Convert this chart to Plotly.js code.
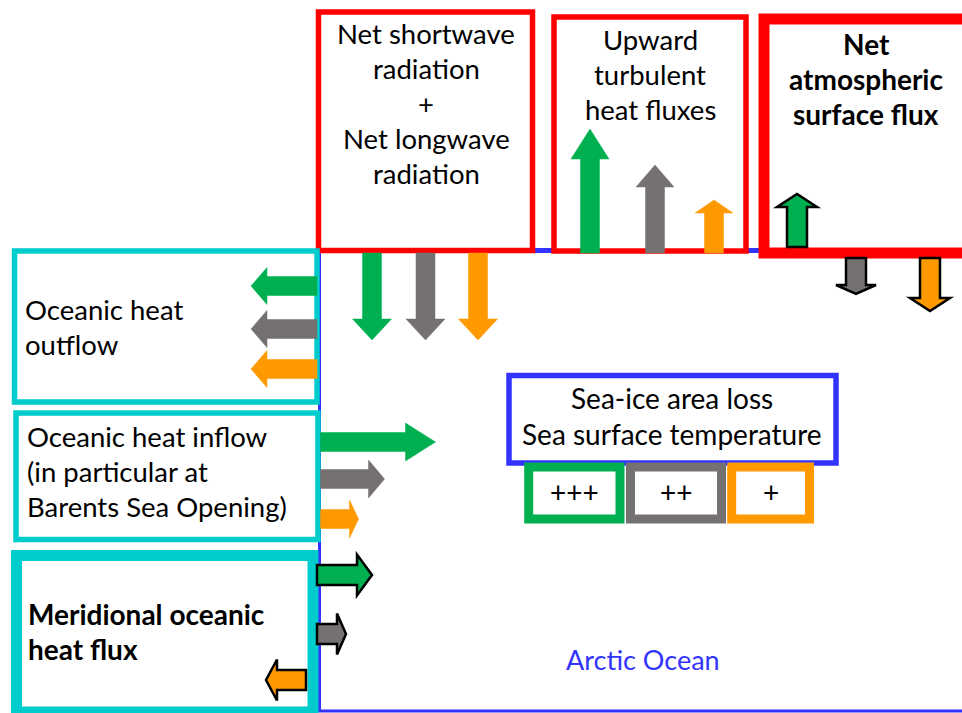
<!DOCTYPE html>
<html>
<head>
<meta charset="utf-8">
<script src="https://cdn.plot.ly/plotly-3.0.1.min.js"></script>
<style>html,body{margin:0;padding:0;background:#fff;}#chart{width:962px;height:713px;}</style>
</head>
<body>
<div id="chart"></div>
<script>
// ---------------- data ----------------
const scenarioColors = ['#00B050', '#767171', '#FF9900'];
const scenarioSigns = ['+++', '++', '+'];

const radiationLabel = ['Net shortwave', 'radiation', '+', 'Net longwave', 'radiation'];
const turbulentLabel = ['Upward', 'turbulent', 'heat fluxes'];
const netSurfaceLabel = ['Net', 'atmospheric', 'surface flux'];
const outflowLabel = ['Oceanic heat', 'outflow'];
const inflowLabel = ['Oceanic heat inflow', '(in particular at', 'Barents Sea Opening)'];
const meridionalLabel = ['Meridional oceanic', 'heat flux'];
const oceanStateLabel = ['Sea-ice area loss', 'Sea surface temperature'];
const regionLabel = 'Arctic Ocean';

// arrow magnitudes per scenario (green, grey, orange)
const radiativeFlux = [87, 87, 87];      // into the ocean (downward)
const turbulentFlux = [124, 88, 53];     // out of the ocean (upward)
const netSurfaceFlux = [53, -36, -53];   // + upward, - downward
const outflowFlux = [66, 66, 66];        // leaving the ocean (leftward)
const inflowFlux = [115, 64, 38];        // entering the ocean (rightward)
const meridionalFlux = [55, 29, -40];    // + into the ocean, - out of it

// ---------------- styles / layout ----------------
const FONT = 'Lato, "Source Sans Pro", "Open Sans", sans-serif';
const RED = '#FF0000', CYAN = '#00CCCC', BLUE = '#3333FF';
const TXT = 27.5, TXTB = 28;

const shapes = [];
const annotations = [];

function rect(x0, y0, x1, y1, color, width, fill) {
  shapes.push({type: 'rect', xref: 'x', yref: 'y', x0: x0, y0: y0, x1: x1, y1: y1,
    line: {color: color, width: width}, fillcolor: fill || 'rgba(0,0,0,0)', layer: 'above'});
}
function seg(x0, y0, x1, y1, color, width) {
  shapes.push({type: 'line', xref: 'x', yref: 'y', x0: x0, y0: y0, x1: x1, y1: y1,
    line: {color: color, width: width}, layer: 'above'});
}
// arrow from base (bx,by) along unit direction (ux,uy) with length len
function arrow(bx, by, ux, uy, len, shaftW, headW, headL, color, outline) {
  const px = -uy, py = ux; // perpendicular
  const hb = Math.max(len - headL, 0);
  const pts = [
    [bx + px * shaftW / 2, by + py * shaftW / 2],
    [bx + ux * hb + px * shaftW / 2, by + uy * hb + py * shaftW / 2],
    [bx + ux * hb + px * headW / 2, by + uy * hb + py * headW / 2],
    [bx + ux * len, by + uy * len],
    [bx + ux * hb - px * headW / 2, by + uy * hb - py * headW / 2],
    [bx + ux * hb - px * shaftW / 2, by + uy * hb - py * shaftW / 2],
    [bx - px * shaftW / 2, by - py * shaftW / 2]
  ];
  const path = 'M' + pts.map(p => p[0].toFixed(2) + ',' + p[1].toFixed(2)).join('L') + 'Z';
  shapes.push({type: 'path', xref: 'x', yref: 'y', path: path, fillcolor: color,
    line: outline ? {color: '#000000', width: 2.5} : {color: color, width: 0.5}, layer: 'above'});
}
function textLines(lines, x, yFirst, spacing, anchor, size, bold, color) {
  lines.forEach((t, i) => {
    annotations.push({xref: 'x', yref: 'y', x: x, y: yFirst + i * spacing, text: bold ? '<b>' + t + '</b>' : t,
      showarrow: false, xanchor: anchor, yanchor: 'middle', borderpad: 0,
      font: {family: FONT, size: size, color: color || '#000000'}});
  });
}

// Arctic Ocean frame
rect(319.5, 251, 985, 711, BLUE, 3);
seg(530, 250.5, 965, 250.5, BLUE, 5);

// atmospheric boxes
rect(318.5, 12, 532.5, 250.5, RED, 5.5, '#ffffff');
rect(554, 17, 746, 251, RED, 5.5, '#ffffff');
rect(764, 19, 985, 253, RED, 11, '#ffffff');

// oceanic boxes
rect(14.5, 251, 317, 402, CYAN, 5.5, '#ffffff');
rect(16, 413, 318, 539.5, CYAN, 5.5, '#ffffff');
rect(16.5, 555.5, 313, 712, CYAN, 11, '#ffffff');

// ocean state box + scenario boxes
rect(509, 375.5, 836, 463, BLUE, 5.5, '#ffffff');
const signBoxX = [[528.7, 620], [630.5, 721.5], [731.7, 809.5]];
scenarioSigns.forEach((s, i) => {
  rect(signBoxX[i][0], 467, signBoxX[i][1], 519, scenarioColors[i], 9, '#ffffff');
  annotations.push({xref: 'x', yref: 'y', x: (signBoxX[i][0] + signBoxX[i][1]) / 2, y: 492, text: s,
    showarrow: false, xanchor: 'center', yanchor: 'middle', font: {family: FONT, size: 28, color: '#000'}});
});

// ---- arrows ----
const radX = [372, 425.5, 478], radHead = [21, 21, 21];
radiativeFlux.forEach((v, i) => arrow(radX[i], 253, 0, 1, v, 19, 39, radHead[i], scenarioColors[i], false));

const turbX = [590, 655, 714], turbHead = [30, 22, 13];
turbulentFlux.forEach((v, i) => arrow(turbX[i], 253, 0, -1, v, 19, 38, turbHead[i], scenarioColors[i], false));

const netX = [797, 856, 930], netHead = [13, 9, 13];
netSurfaceFlux.forEach((v, i) => {
  if (v >= 0) arrow(netX[i], 247, 0, -1, v, 20, 40, netHead[i], scenarioColors[i], true);
  else arrow(netX[i], 258, 0, 1, -v, 20, 40, netHead[i], scenarioColors[i], true);
});

const outY = [286, 329, 369], outHead = [16, 16, 16];
outflowFlux.forEach((v, i) => arrow(317, outY[i], -1, 0, v, 19, 37, outHead[i], scenarioColors[i], false));

const inY = [442, 479, 519], inHead = [30, 16, 9];
inflowFlux.forEach((v, i) => arrow(320.5, inY[i], 1, 0, v, 19, 38, inHead[i], scenarioColors[i], false));

const merY = [575, 634, 680], merHead = [15, 9, 11];
meridionalFlux.forEach((v, i) => {
  if (v >= 0) arrow(317, merY[i], 1, 0, v, 20, 41, merHead[i], scenarioColors[i], true);
  else arrow(306, merY[i], -1, 0, -v, 20, 41, merHead[i], scenarioColors[i], true);
});

// ---- texts ----
textLines(radiationLabel, 426, 33.5, 35, 'center', TXT, false);
textLines(turbulentLabel, 650, 39, 35, 'center', TXT, false);
textLines(netSurfaceLabel, 866, 43.5, 35, 'center', TXTB, true);
textLines(outflowLabel, 24, 309, 35, 'left', TXT, false);
textLines(inflowLabel, 26, 436, 35, 'left', TXT, false);
textLines(meridionalLabel, 27, 614, 35, 'left', TXTB, true);
textLines(oceanStateLabel, 672, 398, 36, 'center', 28, false);
annotations.push({xref: 'x', yref: 'y', x: 643, y: 659, text: regionLabel, showarrow: false,
  xanchor: 'center', yanchor: 'middle', font: {family: FONT, size: 27, color: BLUE}});

const layout = {
  width: 962, height: 713,
  margin: {l: 0, r: 0, t: 0, b: 0, pad: 0},
  paper_bgcolor: '#ffffff', plot_bgcolor: '#ffffff',
  showlegend: false,
  xaxis: {range: [0, 962], visible: false, showgrid: false, zeroline: false, fixedrange: true},
  yaxis: {range: [713, 0], visible: false, showgrid: false, zeroline: false, fixedrange: true},
  shapes: shapes,
  annotations: annotations
};

Plotly.newPlot('chart', [], layout, {staticPlot: true, displayModeBar: false});
</script>
</body>
</html>
